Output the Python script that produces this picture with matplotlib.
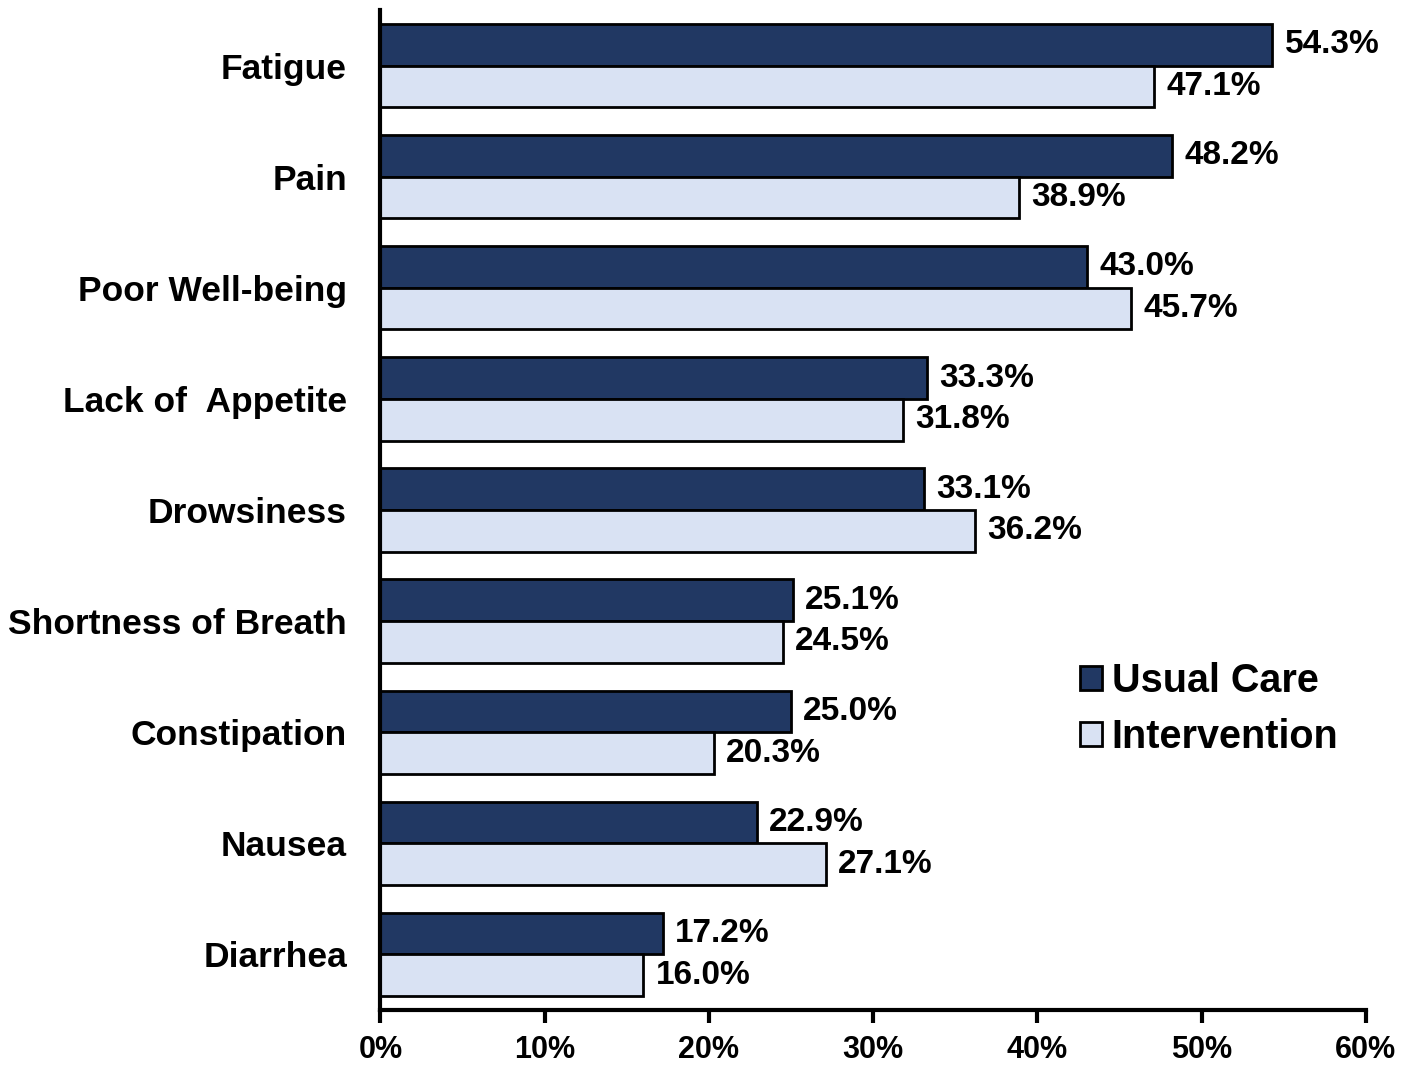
import numpy as np
import matplotlib.pyplot as plt
from matplotlib.ticker import PercentFormatter

categories = ["Fatigue", "Pain", "Poor Well-being", "Lack of  Appetite", "Drowsiness",
              "Shortness of Breath", "Constipation", "Nausea", "Diarrhea"]
usual_care = [54.3, 48.2, 43.0, 33.3, 33.1, 25.1, 25.0, 22.9, 17.2]
intervention = [47.1, 38.9, 45.7, 31.8, 36.2, 24.5, 20.3, 27.1, 16.0]

plt.rcParams['font.family'] = ['Liberation Sans', 'DejaVu Sans']
plt.rcParams['font.weight'] = 'bold'

fig = plt.figure(figsize=(14.14, 10.65), dpi=100)
ax = fig.add_axes([0.269, 0.0516, 0.697, 0.939])

y = np.arange(len(categories))
h = 0.375
b1 = ax.barh(y - h / 2, usual_care, height=h, color='#213863', edgecolor='black',
             linewidth=2, label='Usual Care')
b2 = ax.barh(y + h / 2, intervention, height=h, color='#d9e2f3', edgecolor='black',
             linewidth=2, label='Intervention')

for bars, vals in ((b1, usual_care), (b2, intervention)):
    for bar, v in zip(bars, vals):
        ax.text(v + 0.75, bar.get_y() + bar.get_height() / 2, f"{v:.1f}%",
                va='center', ha='left', fontsize=24, fontweight='bold')

ax.set_ylim(len(categories) - 0.5, -0.5)
ax.set_xlim(0, 60)
ax.set_xticks(np.arange(0, 61, 10))
ax.xaxis.set_major_formatter(PercentFormatter(decimals=0))
ax.set_yticks(y)
ax.set_yticklabels(categories)
ax.tick_params(axis='y', length=0, pad=24, labelsize=25.5)
ax.tick_params(axis='x', length=9, width=3, direction='out', labelsize=22, pad=9)

for s in ('top', 'right'):
    ax.spines[s].set_visible(False)
for s in ('left', 'bottom'):
    ax.spines[s].set_linewidth(3)

ax.legend(loc='upper left', bbox_to_anchor=(0.694, 0.364), frameon=False, fontsize=28.5,
          handlelength=0.55, handleheight=0.55, handletextpad=0.25, labelspacing=0.45,
          borderaxespad=0)

fig.savefig('out.png', dpi=100)
